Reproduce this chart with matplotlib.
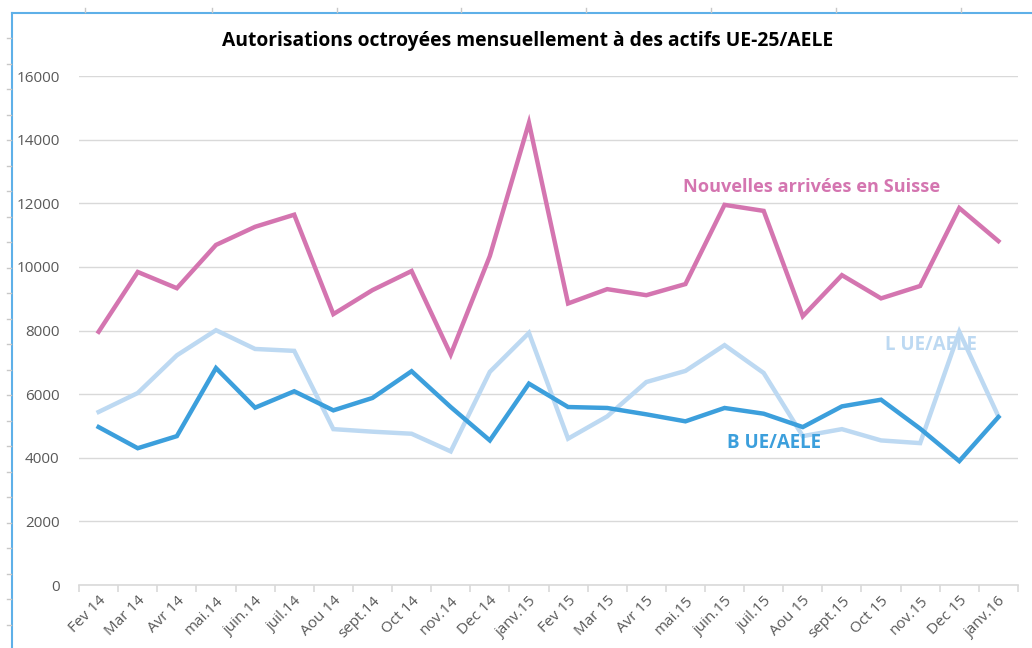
import matplotlib.pyplot as plt
from matplotlib.lines import Line2D

plt.rcParams['font.family'] = ['Open Sans', 'DejaVu Sans']

# données
mois = ["Fev 14", "Mar 14", "Avr 14", "mai.14", "juin.14", "juil.14", "Aou 14", "sept.14",
        "Oct 14", "nov.14", "Dec 14", "janv.15", "Fev 15", "Mar 15", "Avr 15", "mai.15",
        "juin.15", "juil.15", "Aou 15", "sept.15", "Oct 15", "nov.15", "Dec 15", "janv.16"]
nouvelles = [7960, 9840, 9330, 10690, 11260, 11640, 8515, 9270, 9870, 7245, 10340, 14530,
             8850, 9300, 9110, 9460, 11950, 11760, 8450, 9740, 9010, 9400, 11850, 10810]
l_ue = [5440, 6035, 7220, 8010, 7420, 7360, 4900, 4820, 4755, 4200, 6700, 7925,
        4600, 5300, 6380, 6730, 7540, 6665, 4680, 4900, 4545, 4460, 7960, 5300]
b_ue = [4965, 4300, 4680, 6820, 5575, 6090, 5490, 5880, 6720, 5595, 4545, 6330,
        5595, 5565, 5365, 5145, 5565, 5385, 4965, 5615, 5825, 4915, 3895, 5280]

c_rose = '#d475b0'
c_clair = '#bdd9f2'
c_fonce = '#3c9fdc'

fig = plt.figure(figsize=(10.32, 6.48), dpi=100)
ax = fig.add_axes([0.0766, 0.0972, 0.9098, 0.7855])

x = range(len(mois))
ax.plot(x, l_ue, color=c_clair, linewidth=3.2, solid_joinstyle='miter', zorder=3)
ax.plot(x, b_ue, color=c_fonce, linewidth=3.2, solid_joinstyle='miter', zorder=4)
ax.plot(x, nouvelles, color=c_rose, linewidth=3.2, solid_joinstyle='miter', zorder=5)

ax.set_xlim(-0.5, len(mois) - 0.5)
ax.set_ylim(0, 16000)
ax.set_yticks(range(0, 16001, 2000))
ax.grid(axis='y', color='#d9d9d9', linewidth=1)
ax.set_axisbelow(True)
for s in ['left', 'right', 'top']:
    ax.spines[s].set_visible(False)
ax.spines['bottom'].set_color('#d9d9d9')
ax.spines['bottom'].set_linewidth(1.2)
ax.tick_params(axis='y', length=0, pad=14, labelsize=11, labelcolor='#595959')

# graduations entre les catégories, étiquettes au centre
ax.set_xticks([i - 0.5 for i in range(len(mois) + 1)])
ax.set_xticklabels([])
ax.set_xticks(list(x), minor=True)
ax.set_xticklabels(mois, minor=True, rotation=45, ha='right', va='top',
                   rotation_mode='anchor', fontsize=11, color='#595959')
ax.tick_params(axis='x', which='major', length=5, color='#d9d9d9', width=1.2)
ax.tick_params(axis='x', which='minor', length=0, pad=6)

ax.text(14.93, 12510, "Nouvelles arrivées en Suisse", color=c_rose, fontsize=13.1,
        fontweight='bold', va='center', ha='left')
ax.text(20.09, 7550, "L UE/AELE", color=c_clair, fontsize=13.5,
        fontweight='bold', va='center', ha='left', zorder=2)
ax.text(16.06, 4450, "B UE/AELE", color=c_fonce, fontsize=13.5,
        fontweight='bold', va='center', ha='left', zorder=6)

fig.text(0.511, 0.937, "Autorisations octroyées mensuellement à des actifs UE-25/AELE",
         ha='center', va='center', fontsize=13.9, fontweight='bold', color='black')

# cadre bleu (gauche et haut) avec petites graduations grises
W, H = 1032, 648
fig.add_artist(Line2D([12 / W, 12 / W], [0, 1 - 13 / H], color='#5eb0e8', linewidth=1.5))
fig.add_artist(Line2D([12 / W, 1], [1 - 13 / H, 1 - 13 / H], color='#5eb0e8', linewidth=1.5))
yy = 38
while yy < H:
    fig.add_artist(Line2D([7 / W, 11 / W], [1 - yy / H, 1 - yy / H], color='#c8c8c8', linewidth=1))
    yy += 25.5
for xx in [85, 212, 337, 461, 586, 711, 836, 961]:
    fig.add_artist(Line2D([xx / W, xx / W], [1 - 8 / H, 1 - 12 / H], color='#c8c8c8', linewidth=1))

fig.savefig("out.png", dpi=100)
